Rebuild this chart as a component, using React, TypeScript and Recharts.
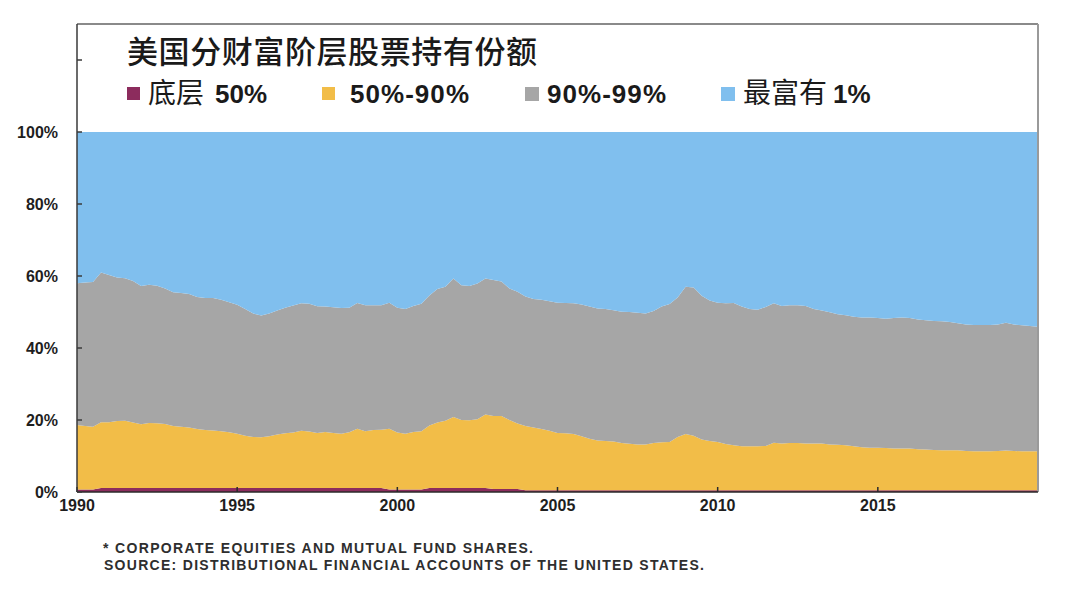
import React from 'react';
import { AreaChart, Area, XAxis, YAxis, ReferenceLine } from 'recharts';

const W = 1080;
const H = 597;

// Quarterly observations, 1990Q1 .. 2020Q1 (x = year + quarter/4)
const quarters: number[] = [];
for (let i = 0; i <= 120; i++) quarters.push(1990 + i / 4);

// Share of corporate equities & mutual fund shares held (%)
const bottom50 = [
  0.7, 0.7, 0.7, 1.1, // 1990
  1.1, 1.1, 1.1, 1.1, // 1991
  1.1, 1.1, 1.1, 1.1, // 1992
  1.1, 1.1, 1.1, 1.1, // 1993
  1.1, 1.1, 1.1, 1.1, // 1994
  1.1, 1.1, 1.1, 1.1, // 1995
  1.1, 1.1, 1.1, 1.1, // 1996
  1.1, 1.1, 1.1, 1.1, // 1997
  1.1, 1.1, 1.1, 1.1, // 1998
  1.1, 1.1, 1.1, 0.7, // 1999
  0.7, 0.7, 0.7, 0.7, // 2000
  1.1, 1.1, 1.1, 1.1, // 2001
  1.1, 1.1, 1.1, 1.1, // 2002
  0.8, 0.8, 0.8, 0.8, // 2003
  0.5, 0.5, 0.5, 0.5, // 2004
  0.5, 0.5, 0.5, 0.5, // 2005
  0.5, 0.5, 0.5, 0.5, // 2006
  0.5, 0.5, 0.5, 0.5, // 2007
  0.5, 0.5, 0.5, 0.5, // 2008
  0.5, 0.5, 0.5, 0.5, // 2009
  0.5, 0.5, 0.5, 0.5, // 2010
  0.5, 0.5, 0.5, 0.5, // 2011
  0.5, 0.5, 0.5, 0.5, // 2012
  0.5, 0.5, 0.5, 0.5, // 2013
  0.5, 0.5, 0.5, 0.5, // 2014
  0.5, 0.5, 0.5, 0.5, // 2015
  0.5, 0.5, 0.5, 0.5, // 2016
  0.5, 0.5, 0.5, 0.5, // 2017
  0.5, 0.5, 0.5, 0.5, // 2018
  0.5, 0.5, 0.5, 0.5, // 2019
  0.5, // 2020
];

const mid40 = [
  17.9, 17.6, 17.4, 18.3, // 1990
  18.3, 18.6, 18.7, 18.2, // 1991
  17.7, 18.1, 18.0, 17.8, // 1992
  17.2, 17.0, 16.8, 16.4, // 1993
  16.1, 16.0, 15.8, 15.5, // 1994
  15.1, 14.5, 14.2, 14.1, // 1995
  14.4, 14.9, 15.2, 15.4, // 1996
  15.9, 15.7, 15.3, 15.6, // 1997
  15.3, 15.1, 15.5, 16.5, // 1998
  15.8, 16.1, 16.2, 16.9, // 1999
  15.8, 15.5, 16.0, 16.2, // 2000
  17.4, 18.2, 18.7, 19.7, // 2001
  18.9, 18.8, 19.1, 20.4, // 2002
  20.3, 20.3, 19.2, 18.2, // 2003
  17.8, 17.4, 17.0, 16.5, // 2004
  15.9, 15.8, 15.6, 15.0, // 2005
  14.3, 13.8, 13.7, 13.5, // 2006
  13.1, 12.9, 12.7, 12.7, // 2007
  13.1, 13.3, 13.4, 14.8, // 2008
  15.6, 15.1, 14.1, 13.7, // 2009
  13.4, 12.8, 12.5, 12.2, // 2010
  12.2, 12.2, 12.3, 13.2, // 2011
  13.0, 13.1, 13.1, 13.0, // 2012
  13.0, 13.0, 12.7, 12.6, // 2013
  12.5, 12.2, 11.9, 11.8, // 2014
  11.8, 11.7, 11.6, 11.6, // 2015
  11.6, 11.4, 11.3, 11.2, // 2016
  11.1, 11.1, 11.1, 10.9, // 2017
  10.8, 10.8, 10.8, 10.9, // 2018
  11.0, 10.9, 10.8, 10.8, // 2019
  10.8, // 2020
];

const next9 = [
  39.4, 39.9, 40.2, 41.6, // 1990
  40.9, 39.9, 39.6, 39.3, // 1991
  38.4, 38.4, 38.2, 37.6, // 1992
  37.2, 37.2, 37.1, 36.7, // 1993
  36.7, 36.8, 36.5, 36.1, // 1994
  35.8, 35.2, 34.3, 33.8, // 1995
  34.1, 34.4, 34.9, 35.3, // 1996
  35.4, 35.5, 35.2, 34.8, // 1997
  34.9, 34.9, 34.6, 34.9, // 1998
  35.0, 34.7, 34.6, 35.0, // 1999
  34.7, 34.6, 35.0, 35.4, // 2000
  36.1, 37.1, 37.2, 38.5, // 2001
  37.4, 37.3, 37.7, 37.8, // 2002
  37.8, 37.4, 36.5, 36.6, // 2003
  36.0, 35.7, 35.9, 36.0, // 2004
  36.2, 36.2, 36.3, 36.6, // 2005
  36.7, 36.7, 36.6, 36.5, // 2006
  36.5, 36.6, 36.6, 36.4, // 2007
  36.7, 37.7, 38.3, 38.7, // 2008
  40.9, 41.2, 39.9, 39.0, // 2009
  38.7, 39.1, 39.5, 38.8, // 2010
  38.1, 37.9, 38.6, 38.7, // 2011
  38.2, 38.3, 38.3, 38.2, // 2012
  37.3, 36.9, 36.7, 36.3, // 2013
  36.1, 36.0, 36.1, 36.2, // 2014
  36.0, 35.9, 36.2, 36.4, // 2015
  36.2, 36.0, 35.9, 35.8, // 2016
  35.8, 35.6, 35.3, 35.1, // 2017
  35.1, 35.1, 35.1, 35.1, // 2018
  35.5, 35.1, 35.0, 34.8, // 2019
  34.6, // 2020
];

const top1 = [
  42.0, 41.8, 41.7, 39.0, // 1990
  39.7, 40.4, 40.6, 41.4, // 1991
  42.8, 42.4, 42.7, 43.5, // 1992
  44.5, 44.7, 45.0, 45.8, // 1993
  46.1, 46.1, 46.6, 47.3, // 1994
  48.0, 49.2, 50.4, 51.0, // 1995
  50.4, 49.6, 48.8, 48.2, // 1996
  47.6, 47.7, 48.4, 48.5, // 1997
  48.7, 48.9, 48.8, 47.5, // 1998
  48.1, 48.1, 48.1, 47.4, // 1999
  48.8, 49.2, 48.3, 47.7, // 2000
  45.4, 43.6, 43.0, 40.7, // 2001
  42.6, 42.8, 42.1, 40.7, // 2002
  41.1, 41.5, 43.5, 44.4, // 2003
  45.7, 46.4, 46.6, 47.0, // 2004
  47.4, 47.5, 47.6, 47.9, // 2005
  48.5, 49.0, 49.2, 49.5, // 2006
  49.9, 50.0, 50.2, 50.4, // 2007
  49.7, 48.5, 47.8, 46.0, // 2008
  43.0, 43.2, 45.5, 46.8, // 2009
  47.4, 47.6, 47.5, 48.5, // 2010
  49.2, 49.4, 48.6, 47.6, // 2011
  48.3, 48.1, 48.1, 48.3, // 2012
  49.2, 49.6, 50.1, 50.6, // 2013
  50.9, 51.3, 51.5, 51.5, // 2014
  51.7, 51.9, 51.7, 51.5, // 2015
  51.7, 52.1, 52.3, 52.5, // 2016
  52.6, 52.8, 53.1, 53.5, // 2017
  53.6, 53.6, 53.6, 53.5, // 2018
  53.0, 53.5, 53.7, 53.9, // 2019
  54.1, // 2020
];

const xTicks = [1990, 1995, 2000, 2005, 2010, 2015];
const yTicks = [0, 20, 40, 60, 80, 100, 120];

const title = '美国分财富阶层股票持有份额';
const seriesNames = ['底层 50%', '50%-90%', '90%-99%', '最富有 1%'];
const footnotes = [
  '* CORPORATE EQUITIES AND MUTUAL FUND SHARES.',
  'SOURCE: DISTRIBUTIONAL FINANCIAL ACCOUNTS OF THE UNITED STATES.',
];

const COLORS = {
  bottom50: '#8C2C5D',
  mid40: '#F2BD48',
  next9: '#A6A6A6',
  top1: '#80BFEE',
};

const data = quarters.map((x, i) => ({
  x,
  bottom50: bottom50[i],
  mid40: mid40[i],
  next9: next9[i],
  top1: top1[i],
}));

const tickFont = {
  fontFamily: '"Liberation Sans", Arial, sans-serif',
  fontWeight: 700,
  fontSize: 16,
  fill: '#1e1e1e',
};

const CJK = '"Noto Sans CJK SC", "Noto Sans", sans-serif';
const LAT = '"Liberation Sans", Arial, sans-serif';

export default function App() {
  return (
    <div style={{ position: 'absolute', left: 0, top: 0, width: W, height: H, background: '#fff' }}>
      <AreaChart
        width={W}
        height={H}
        data={data}
        margin={{ top: 24, right: 42, bottom: 75, left: 0 }}
      >
        <XAxis
          dataKey="x"
          type="number"
          domain={[1990, 2020]}
          ticks={xTicks}
          interval={0}
          height={30}
          tickSize={-5}
          tickMargin={13}
          axisLine={{ stroke: '#2a2a2a', strokeWidth: 1.5 }}
          tickLine={{ stroke: '#2a2a2a', strokeWidth: 1.5 }}
          tick={tickFont}
        />
        <YAxis
          type="number"
          domain={[0, 130]}
          ticks={yTicks}
          interval={0}
          width={77}
          tickSize={-5}
          tickMargin={24}
          tickFormatter={(v: number) => (v <= 100 ? `${v}%` : '')}
          axisLine={{ stroke: '#3a3a3a', strokeWidth: 1.5 }}
          tickLine={{ stroke: '#3a3a3a', strokeWidth: 1.5 }}
          tick={tickFont}
        />
        <Area type="linear" dataKey="bottom50" name={seriesNames[0]} stackId="s" fill={COLORS.bottom50} fillOpacity={1} stroke="none" isAnimationActive={false} />
        <Area type="linear" dataKey="mid40" name={seriesNames[1]} stackId="s" fill={COLORS.mid40} fillOpacity={1} stroke="none" isAnimationActive={false} />
        <Area type="linear" dataKey="next9" name={seriesNames[2]} stackId="s" fill={COLORS.next9} fillOpacity={1} stroke="none" isAnimationActive={false} />
        <Area type="linear" dataKey="top1" name={seriesNames[3]} stackId="s" fill={COLORS.top1} fillOpacity={1} stroke="none" isAnimationActive={false} />
        <ReferenceLine y={130} stroke="#8a8a8a" strokeWidth={2} />
        <ReferenceLine x={2020} stroke="#9a9a9a" strokeWidth={2} />
      </AreaChart>

      <svg
        width={W}
        height={H}
        style={{ position: 'absolute', left: 0, top: 0, pointerEvents: 'none' }}
      >
        <text x={127} y={63} fontFamily={CJK} fontSize={31} fontWeight={500} fill="#1a1a1a" textLength={410}>
          {title}
        </text>

        {/* legend */}
        <rect x={127} y={87} width={13} height={13} fill={COLORS.bottom50} />
        <text x={148} y={102.5} fontFamily={CJK} fontSize={28} fill="#1a1a1a">底层</text>
        <text x={215} y={102.5} fontFamily={LAT} fontWeight={700} fontSize={26} fill="#1a1a1a">50%</text>

        <rect x={322} y={87} width={13} height={13} fill={COLORS.mid40} />
        <text x={350} y={102.5} fontFamily={LAT} fontWeight={700} fontSize={26} fill="#1a1a1a" textLength={119}>
          {seriesNames[1]}
        </text>

        <rect x={525} y={87} width={14} height={14} fill={COLORS.next9} />
        <text x={547} y={102.5} fontFamily={LAT} fontWeight={700} fontSize={26} fill="#1a1a1a" textLength={119}>
          {seriesNames[2]}
        </text>

        <rect x={721} y={87} width={14} height={14} fill={COLORS.top1} />
        <text x={743} y={102.5} fontFamily={CJK} fontSize={28} fill="#1a1a1a">最富有</text>
        <text x={833} y={102.5} fontFamily={LAT} fontWeight={700} fontSize={26} fill="#1a1a1a">1%</text>

        {/* footnotes */}
        <text x={103} y={553} fontFamily={LAT} fontWeight={700} fontSize={14} fill="#2e2e2e" textLength={430}>
          {footnotes[0]}
        </text>
        <text x={104} y={570} fontFamily={LAT} fontWeight={700} fontSize={14} fill="#2e2e2e" textLength={600}>
          {footnotes[1]}
        </text>
      </svg>
    </div>
  );
}
